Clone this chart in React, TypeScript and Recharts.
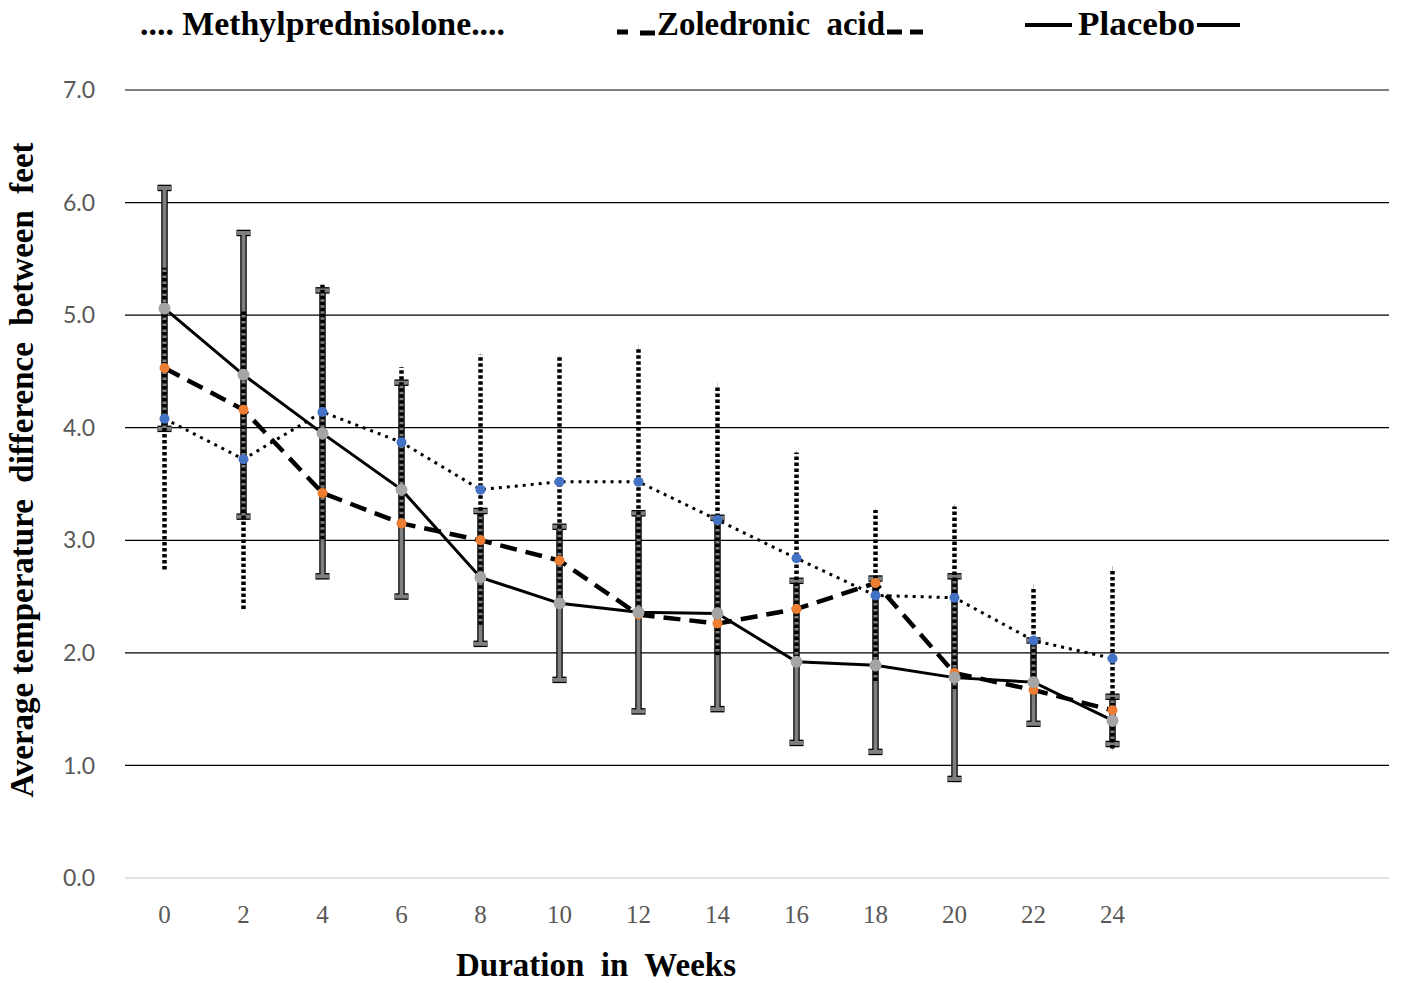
import {
  LineChart,
  Line,
  XAxis,
  YAxis,
  CartesianGrid,
  ErrorBar,
  Legend,
} from "recharts";

// weeks that carry a label, then three empty slots the original axis keeps
const weeks = ["0", "2", "4", "6", "8", "10", "12", "14", "16", "18", "20", "22", "24"];
const emptySlots = ["26", "28", "30"];

const methyl = [4.08, 3.72, 4.14, 3.87, 3.45, 3.52, 3.52, 3.18, 2.84, 2.51, 2.49, 2.11, 1.95];
const methylSd = [1.34, 1.33, 1.13, 0.67, 1.2, 1.11, 1.2, 1.2, 0.94, 0.76, 0.81, 0.48, 0.8];
const zoledronic = [4.53, 4.16, 3.42, 3.15, 3.0, 2.82, 2.34, 2.26, 2.39, 2.62, 1.82, 1.67, 1.49];
const placebo = [5.06, 4.47, 3.95, 3.45, 2.67, 2.44, 2.36, 2.35, 1.92, 1.89, 1.78, 1.74, 1.4];
const placeboSd = [1.07, 1.26, 1.27, 0.95, 0.59, 0.68, 0.88, 0.85, 0.72, 0.77, 0.9, 0.37, 0.21];

const yTicks = [0, 1, 2, 3, 4, 5, 6, 7];
const gridValues = [1, 2, 3, 4, 5, 6, 7];

const rows = [...weeks, ...emptySlots].map((week, i) => ({
  week,
  methyl: methyl[i],
  methylSd: methylSd[i],
  zoledronic: zoledronic[i],
  placebo: placebo[i],
  placeboSd: placeboSd[i],
}));

const serif = "'Liberation Serif', 'Times New Roman', serif";

const LegendArt = () => (
  <svg width={1403} height={50} style={{ display: "block" }}>
    <g fontFamily={serif} fontWeight="bold" fontSize={34} fill="#000">
      <text x={140} y={35} textLength={365} lengthAdjust="spacingAndGlyphs">
        .... Methylprednisolone....
      </text>

      <line x1={617} y1={32} x2={628} y2={32} stroke="#000" strokeWidth={5} />
      <line x1={640} y1={33} x2={655} y2={33} stroke="#000" strokeWidth={5} />
      <text
        x={657}
        y={35}
        textLength={228}
        lengthAdjust="spacingAndGlyphs"
        style={{ whiteSpace: "pre" }}
      >
        Zoledronic  acid
      </text>
      <line x1={887} y1={32} x2={902} y2={32} stroke="#000" strokeWidth={5} />
      <line x1={910} y1={32} x2={923} y2={32} stroke="#000" strokeWidth={5} />

      <line x1={1025} y1={25} x2={1072} y2={25} stroke="#000" strokeWidth={4} />
      <text x={1078} y={35} textLength={117} lengthAdjust="spacingAndGlyphs">
        Placebo
      </text>
      <line x1={1197} y1={25} x2={1240} y2={25} stroke="#000" strokeWidth={4} />
    </g>
  </svg>
);

const XTitle = () => (
  <text
    x={596}
    y={976}
    textAnchor="middle"
    fontFamily={serif}
    fontWeight="bold"
    fontSize={33}
    fill="#000"
    style={{ whiteSpace: "pre" }}
  >
    Duration  in  Weeks
  </text>
);

const YTitle = () => (
  <text
    x={22}
    y={470}
    transform="rotate(-90 22 470)"
    textAnchor="middle"
    dominantBaseline="central"
    fontFamily={serif}
    fontWeight="bold"
    fontSize={33}
    fill="#000"
    style={{ whiteSpace: "pre" }}
  >
    Average temperature  difference  between  feet
  </text>
);

const App = () => {
  return (
    <div style={{ position: "absolute", left: 0, top: 0 }}>
      <LineChart
        width={1403}
        height={983}
        data={rows}
        margin={{ top: 90, right: 14, bottom: 0, left: 0 }}
      >
        <CartesianGrid
          vertical={false}
          horizontalValues={gridValues}
          stroke="#000"
          strokeWidth={1.2}
        />
        <XAxis
          dataKey="week"
          height={105}
          interval={0}
          padding={{ left: 39.5, right: 39.5 }}
          tickLine={false}
          tickSize={0}
          tickMargin={27}
          axisLine={{ stroke: "#d9d9d9", strokeWidth: 1.5 }}
          tick={{ fill: "#595959", fontSize: 25, fontFamily: serif }}
          tickFormatter={(v) => (weeks.includes(v) ? v : "")}
          label={<XTitle />}
        />
        <YAxis
          type="number"
          domain={[0, 7]}
          ticks={yTicks}
          width={125}
          axisLine={false}
          tickLine={false}
          tickSize={0}
          tickMargin={30}
          tick={{ fill: "#595959", fontSize: 23, fontFamily: "Lato" }}
          tickFormatter={(v) => v.toFixed(1)}
          label={<YTitle />}
        />
        <Legend
          layout="horizontal"
          verticalAlign="middle"
          align="center"
          wrapperStyle={{ top: 0, left: 0, width: 1403, height: 50 }}
          content={() => <LegendArt />}
        />

        {/* error bars first so the series sit on top of them */}
        <Line
          dataKey="placebo"
          stroke="none"
          dot={false}
          activeDot={false}
          legendType="none"
          isAnimationActive={false}
        >
          <ErrorBar dataKey="placeboSd" width={7} stroke="#000" strokeWidth={6.5} isAnimationActive={false} />
          <ErrorBar dataKey="placeboSd" width={7} stroke="#7f7f7f" strokeWidth={4} isAnimationActive={false} />
        </Line>
        <Line
          dataKey="methyl"
          stroke="none"
          dot={false}
          activeDot={false}
          legendType="none"
          isAnimationActive={false}
        >
          <ErrorBar
            dataKey="methylSd"
            width={0}
            stroke="#000"
            strokeWidth={4.5}
            strokeDasharray="3.5 2.5"
            isAnimationActive={false}
          />
        </Line>

        <Line
          dataKey="methyl"
          stroke="#000"
          strokeWidth={3}
          strokeDasharray="3 5"
          dot={{ r: 5, fill: "#4472C4", stroke: "none" }}
          activeDot={false}
          isAnimationActive={false}
        />
        <Line
          dataKey="zoledronic"
          stroke="#000"
          strokeWidth={4.5}
          strokeDasharray="17 9"
          dot={{ r: 5, fill: "#ED7D31", stroke: "none" }}
          activeDot={false}
          isAnimationActive={false}
        />
        <Line
          dataKey="placebo"
          stroke="#000"
          strokeWidth={3}
          dot={{ r: 6, fill: "#A5A5A5", stroke: "none" }}
          activeDot={false}
          isAnimationActive={false}
        />
      </LineChart>
    </div>
  );
};

export default App;
